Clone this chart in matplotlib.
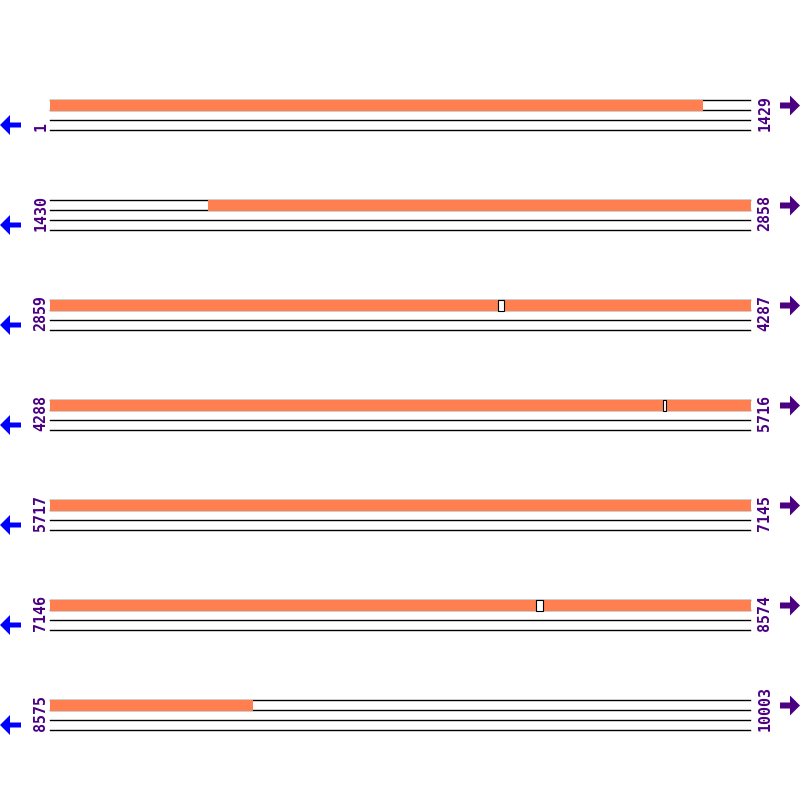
import matplotlib.pyplot as plt
from matplotlib.patches import Rectangle, Polygon

# sequence rows (bp)
row_starts = [1, 1430, 2859, 4288, 5717, 7146, 8575]
row_ends = [1429, 2858, 4287, 5716, 7145, 8574, 10003]

# orange features (bp)
feat_starts = [1, 1752, 3786, 5546, 8153]
feat_ends = [1334, 3773, 5539, 8139, 8989]

# small gaps between features, drawn as white boxes
gap_starts = [3773, 5539, 8139]
gap_ends = [3786, 5546, 8153]

orange = '#FF7F50'
purple = '#4B0082'
blue = '#0000FF'

x0, x1 = 50, 750
row_gap = 100
top = 100


def bp_to_x(bp, r):
    # map a bp position onto the pixel span of row r
    s, e = row_starts[r], row_ends[r] + 1
    return x0 + (bp - s) / (e - s) * (x1 - x0)


def draw_span(ax, a, b, **kw):
    # draw an interval [a, b] split over rows, on the top track
    for r in range(len(row_starts)):
        s, e = row_starts[r], row_ends[r] + 1
        lo, hi = max(a, s), min(b, e)
        if lo >= hi:
            continue
        y0 = top + r * row_gap
        xa, xb = bp_to_x(lo, r), bp_to_x(hi, r)
        if hi == e:
            xb += 0.8
        ax.add_patch(Rectangle((xa, y0 - 0.5), xb - xa, 11, **kw))


fig = plt.figure(figsize=(8, 8), dpi=100)
ax = fig.add_axes([0, 0, 1, 1])
ax.set_xlim(0, 800)
ax.set_ylim(800, 0)
ax.axis('off')

for r in range(len(row_starts)):
    y0 = top + r * row_gap
    for k in range(4):
        ax.plot([x0, x1], [y0 + 10 * k, y0 + 10 * k], color='black', lw=1, zorder=1)

    # labels
    ax.text(41, y0 + 31, str(row_starts[r]), rotation=90, ha='center', va='bottom',
            color=purple, fontsize=10.8, family='DejaVu Sans Mono', fontweight='bold',
            zorder=3)
    ax.text(765, y0 + 31, str(row_ends[r]), rotation=90, ha='center', va='bottom',
            color=purple, fontsize=10.8, family='DejaVu Sans Mono', fontweight='bold',
            zorder=3)

    # left arrow (blue), right arrow (purple)
    yl = y0 + 25
    ax.add_patch(Polygon([(0, yl), (10, yl - 10), (10, yl - 2.5), (21, yl - 2.5),
                          (21, yl + 2.5), (10, yl + 2.5), (10, yl + 10)],
                         closed=True, color=blue, lw=0))
    yr = y0 + 5.5
    ax.add_patch(Polygon([(800, yr), (790, yr - 10), (790, yr - 3), (780, yr - 3),
                          (780, yr + 3), (790, yr + 3), (790, yr + 10)],
                         closed=True, color=purple, lw=0))

for a, b in zip(feat_starts, feat_ends):
    draw_span(ax, a, b, facecolor=orange, edgecolor='none', zorder=2)

for a, b in zip(gap_starts, gap_ends):
    draw_span(ax, a, b, facecolor='white', edgecolor='black', lw=0.8, zorder=2)

plt.savefig('out.png', dpi=100)
